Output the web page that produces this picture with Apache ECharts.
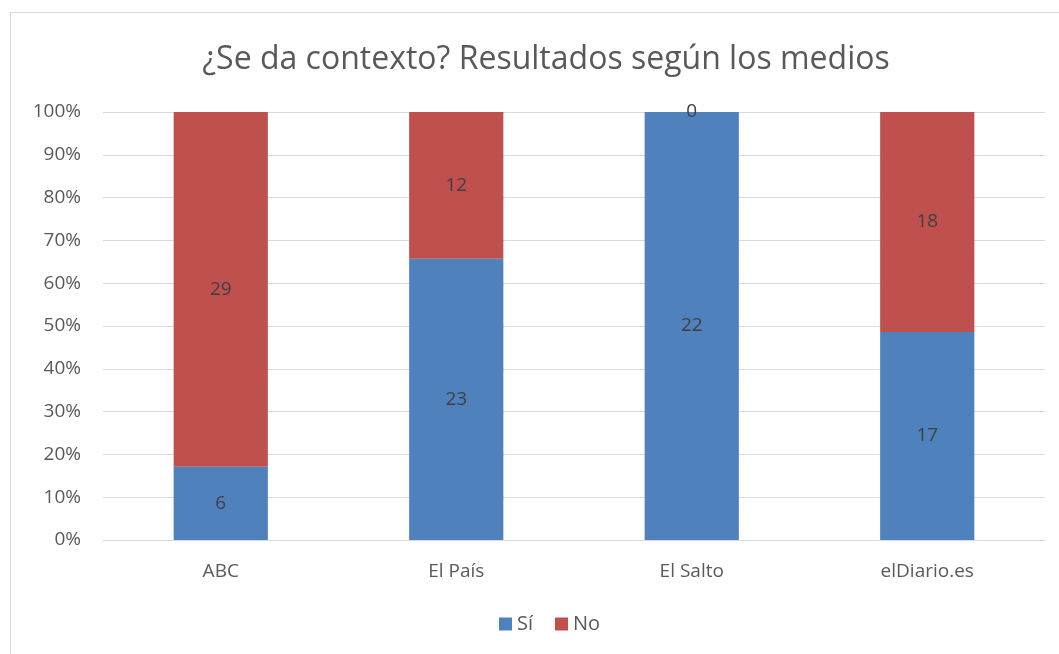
<!DOCTYPE html>
<html>
<head>
<meta charset="utf-8">
<script src="https://cdn.jsdelivr.net/npm/echarts@6/dist/echarts.min.js"></script>
<style>
  html, body { margin: 0; padding: 0; background: #fff; }
  #frame { position: absolute; left: 10px; top: 12px; width: 1060px; height: 660px; border: 1px solid #d9d9d9; box-sizing: border-box; }
  #chart { position: absolute; left: 0; top: 0; width: 1059px; height: 654px; }
</style>
</head>
<body>
<div id="frame"></div>
<div id="chart"></div>
<script>
const medios = ['ABC', 'El País', 'El Salto', 'elDiario.es']
const si = [6, 23, 22, 17]
const no = [29, 12, 0, 18]

// porcentaje de cada medio
const totals = si.map((v, i) => v + no[i])
const siPct = si.map((v, i) => v / totals[i] * 100)
const noPct = no.map((v, i) => v / totals[i] * 100)

const font = 'Open Sans'
const myChart = echarts.init(document.getElementById('chart'))
myChart.setOption({
  animation: false,
  title: {
    text: '¿Se da contexto? Resultados según los medios',
    left: 541,
    textAlign: 'center',
    top: 39,
    textStyle: { fontFamily: font, fontSize: 32, fontWeight: 'normal', color: '#595959' }
  },
  legend: {
    bottom: 15,
    left: 494,
    itemWidth: 13,
    itemHeight: 13,
    itemGap: 22,
    icon: 'rect',
    textStyle: { fontFamily: font, fontSize: 20, color: '#595959' },
    data: ['Sí', 'No']
  },
  grid: { left: 103, right: 14, top: 112, bottom: 114 },
  xAxis: {
    type: 'category',
    data: medios,
    axisLine: { lineStyle: { color: '#d9d9d9', width: 1 } },
    axisTick: { show: false },
    axisLabel: { fontFamily: font, fontSize: 19, color: '#595959', margin: 22 }
  },
  yAxis: {
    type: 'value',
    min: 0,
    max: 100,
    interval: 10,
    axisLine: { show: false },
    axisTick: { show: false },
    splitLine: { lineStyle: { color: '#d9d9d9', width: 1 } },
    axisLabel: { fontFamily: font, fontSize: 19, color: '#595959', margin: 22, formatter: '{value}%' }
  },
  series: [
    {
      name: 'Sí',
      type: 'bar',
      stack: 'total',
      barWidth: '40%',
      data: siPct,
      itemStyle: { color: '#4F81BD' },
      label: {
        show: true,
        fontFamily: font, fontSize: 19, color: '#404040',
        formatter: p => si[p.dataIndex]
      }
    },
    {
      name: 'No',
      type: 'bar',
      stack: 'total',
      barWidth: '40%',
      data: noPct,
      itemStyle: { color: '#C0504D' },
      label: {
        show: true,
        fontFamily: font, fontSize: 19, color: '#404040',
        formatter: p => no[p.dataIndex]
      }
    }
  ]
})
</script>
</body>
</html>
